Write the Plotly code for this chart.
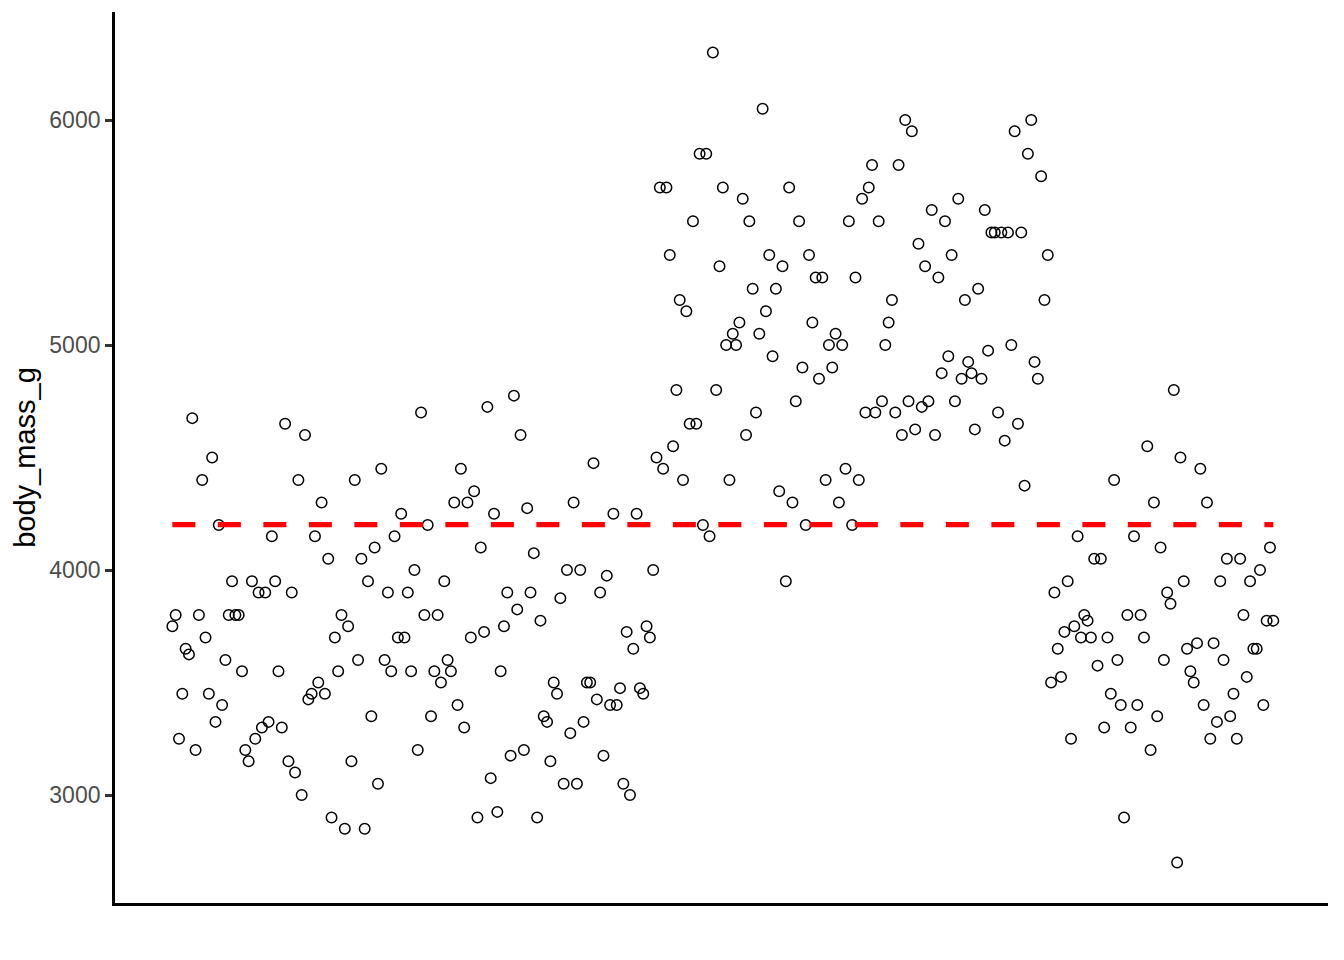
import plotly.graph_objects as go

# body_mass_g values, in row order
adelie = [3750, 3800, 3250, 3450, 3650, 3625, 4675,
          3200, 3800, 4400, 3700, 3450, 4500, 3325, 4200,
          3400, 3600, 3800, 3950, 3800, 3800, 3550, 3200, 3150, 3950,
          3250, 3900, 3300, 3900, 3325, 4150, 3950, 3550, 3300, 4650,
          3150, 3900, 3100, 4400, 3000, 4600, 3425,
          3450, 4150,
          3500, 4300, 3450, 4050, 2900, 3700, 3550, 3800, 2850, 3750,
          3150, 4400, 3600, 4050, 2850, 3950, 3350, 4100, 3050, 4450,
          3600, 3900, 3550, 4150, 3700, 4250, 3700, 3900, 3550, 4000,
          3200, 4700, 3800, 4200, 3350, 3550, 3800, 3500, 3950, 3600,
          3550, 4300, 3400, 4450, 3300, 4300, 3700, 4350, 2900, 4100,
          3725, 4725, 3075, 4250, 2925, 3550, 3750, 3900, 3175, 4775,
          3825, 4600, 3200, 4275, 3900, 4075, 2900, 3775, 3350, 3325,
          3150, 3500, 3450, 3875, 3050, 4000, 3275, 4300, 3050, 4000,
          3325, 3500, 3500, 4475, 3425, 3900, 3175, 3975, 3400, 4250,
          3400, 3475, 3050, 3725, 3000, 3650, 4250, 3475, 3450, 3750, 3700, 4000]

gentoo = [4500, 5700, 4450, 5700, 5400, 4550, 4800, 5200, 4400, 5150,
          4650, 5550, 4650, 5850, 4200, 5850, 4150, 6300, 4800, 5350,
          5700, 5000, 4400, 5050, 5000, 5100, 5650, 4600, 5550, 5250,
          4700, 5050, 6050, 5150, 5400, 4950, 5250, 4350, 5350, 3950,
          5700, 4300, 4750, 5550, 4900, 4200, 5400, 5100, 5300, 4850,
          5300, 4400, 5000, 4900, 5050, 4300, 5000, 4450, 5550, 4200,
          5300, 4400, 5650, 4700, 5700, 5800, 4700, 5550, 4750, 5000,
          5100, 5200, 4700, 5800, 4600, 6000, 4750, 5950, 4625, 5450,
          4725, 5350, 4750, 5600, 4600, 5300, 4875, 5550, 4950, 5400,
          4750, 5650, 4850, 5200, 4925, 4875, 4625, 5250, 4850, 5600,
          4975, 5500, 5500, 4700, 5500, 4575, 5500, 5000, 5950, 4650,
          5500, 4375, 5850, 6000, 4925, 4850, 5750, 5200, 5400]

chinstrap = [3500, 3900, 3650, 3525, 3725, 3950, 3250, 3750, 4150, 3700,
             3800, 3775, 3700, 4050, 3575, 4050, 3300, 3700, 3450, 4400,
             3600, 3400, 2900, 3800, 3300, 4150, 3400, 3800, 3700, 4550,
             3200, 4300, 3350, 4100, 3600, 3900, 3850, 4800, 2700, 4500,
             3950, 3650, 3550, 3500, 3675, 4450, 3400, 4300, 3250, 3675,
             3325, 3950, 3600, 4050, 3350, 3450, 3250, 4050, 3800, 3525,
             3950, 3650, 3650, 4000, 3400, 3775, 4100, 3775]

# level of the dashed reference line
mean_line_value = 4201.75

body_mass_g = adelie + gentoo + chinstrap
row_index = list(range(1, len(body_mass_g) + 1))

fig = go.Figure()
fig.add_trace(go.Scatter(
    x=row_index, y=body_mass_g, mode="markers",
    marker=dict(symbol="circle-open", size=10.5, color="black",
                line=dict(color="black", width=1.5)),
    showlegend=False, hoverinfo="y"))
fig.add_trace(go.Scatter(
    x=[row_index[0], row_index[-1]], y=[mean_line_value, mean_line_value],
    mode="lines",
    line=dict(color="#FF0000", width=5.3, dash="23px,22.5px"),
    showlegend=False, hoverinfo="skip"))

# page body has an 8px margin; figure sized/margined so the plot lands in place
fig.update_layout(
    width=1336, height=952,
    margin=dict(l=107, r=16, t=4, b=57),
    paper_bgcolor="white", plot_bgcolor="white",
    font=dict(family="Liberation Sans, Arial, sans-serif"),
    xaxis=dict(range=[-16.3, 349.5], showline=True, linecolor="black",
               linewidth=2.8, showgrid=False, zeroline=False,
               showticklabels=False, ticks=""),
    yaxis=dict(range=[2520, 6480], showline=True, linecolor="black",
               linewidth=2.8, showgrid=False, zeroline=False,
               tickvals=[3000, 4000, 5000, 6000], ticks="outside",
               ticklen=7, tickwidth=2.8, tickcolor="#333333",
               tickfont=dict(size=23, color="#4D4D4D"),
               title=dict(text="body_mass_g", font=dict(size=29, color="black"),
                          standoff=6)),
)

fig.write_html("out.html")
